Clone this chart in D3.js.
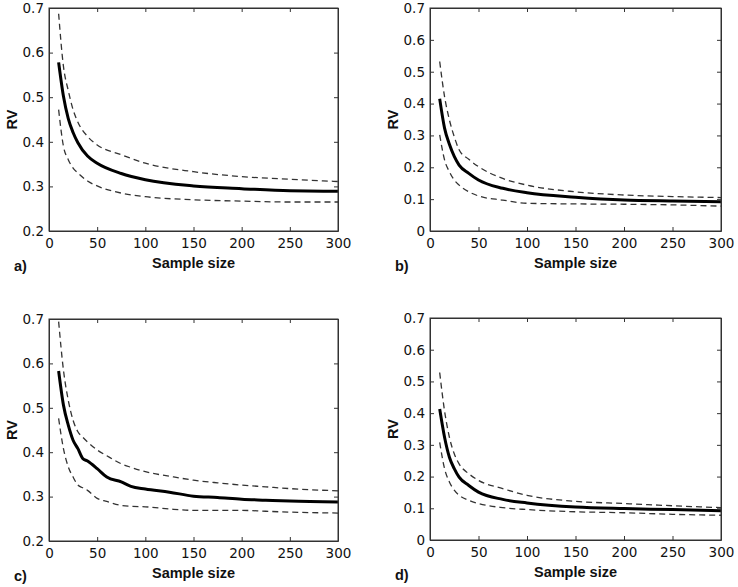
<!DOCTYPE html>
<html>
<head>
<meta charset="utf-8">
<script src="https://cdn.jsdelivr.net/npm/d3@7"></script>
<style>
  body { margin: 0; background: #fff; }
  svg text { font-family: "Liberation Sans", Arial, sans-serif; fill: #111; }
  .rv-label { font-size: 14.5px; font-weight: bold; }
  .rv-mean { fill: none; stroke: #000; stroke-width: 3; }
  .rv-band { fill: none; stroke: #333; stroke-width: 1.3; stroke-dasharray: 6,4; }
</style>
</head>
<body>
<script>
// sample sizes where the curves were read
const sampleSizes = [10, 15, 20, 25, 30, 40, 50, 75, 100, 150, 200, 250, 300];

// panel a
const meanA  = [0.578, 0.502, 0.452, 0.421, 0.398, 0.368, 0.352, 0.329, 0.315, 0.301, 0.295, 0.290, 0.289];
const upperA = [0.687, 0.569, 0.515, 0.472, 0.444, 0.412, 0.393, 0.371, 0.352, 0.333, 0.322, 0.316, 0.311];
const lowerA = [0.472, 0.390, 0.360, 0.341, 0.330, 0.312, 0.301, 0.285, 0.277, 0.270, 0.267, 0.265, 0.265];

// panel b
const meanB  = [0.415, 0.323, 0.272, 0.234, 0.207, 0.181, 0.160, 0.134, 0.120, 0.106, 0.097, 0.094, 0.092];
const upperB = [0.532, 0.422, 0.349, 0.296, 0.255, 0.225, 0.202, 0.165, 0.144, 0.123, 0.113, 0.108, 0.105];
const lowerB = [0.302, 0.223, 0.186, 0.160, 0.144, 0.123, 0.110, 0.097, 0.087, 0.085, 0.084, 0.082, 0.078];

// panel c
const sampleSizesC = [10, 15, 20, 25, 30, 35, 40, 50, 60, 75, 85, 100, 125, 150, 175, 200, 225, 250, 300];
const meanC  = [0.583, 0.506, 0.461, 0.427, 0.408, 0.386, 0.380, 0.363, 0.344, 0.333, 0.323, 0.317, 0.310, 0.301, 0.298, 0.294, 0.292, 0.290, 0.288];
const upperC = [0.694, 0.585, 0.517, 0.472, 0.446, 0.434, 0.423, 0.405, 0.392, 0.374, 0.366, 0.356, 0.346, 0.337, 0.331, 0.326, 0.322, 0.318, 0.313];
const lowerC = [0.476, 0.408, 0.367, 0.344, 0.326, 0.320, 0.314, 0.296, 0.289, 0.280, 0.278, 0.277, 0.272, 0.269, 0.269, 0.269, 0.267, 0.265, 0.263];

// panel d
const meanD  = [0.413, 0.324, 0.261, 0.225, 0.198, 0.172, 0.151, 0.128, 0.117, 0.104, 0.099, 0.096, 0.092];
const upperD = [0.528, 0.407, 0.324, 0.272, 0.240, 0.209, 0.188, 0.162, 0.141, 0.122, 0.115, 0.108, 0.102];
const lowerD = [0.308, 0.225, 0.183, 0.157, 0.141, 0.125, 0.115, 0.102, 0.096, 0.089, 0.086, 0.081, 0.078];

const xTicks = [0, 50, 100, 150, 200, 250, 300];
const yTicksHigh = [0.2, 0.3, 0.4, 0.5, 0.6, 0.7];
const yTicksLow = [0, 0.1, 0.2, 0.3, 0.4, 0.5, 0.6, 0.7];

const panels = [
  { tag: "a)", xs: sampleSizes,  mean: meanA, upper: upperA, lower: lowerA, yDomain: [0.2, 0.7], yTicks: yTicksHigh, box: [49, 338, 8, 231] },
  { tag: "b)", xs: sampleSizes,  mean: meanB, upper: upperB, lower: lowerB, yDomain: [0, 0.7],   yTicks: yTicksLow,  box: [430, 721, 8, 231] },
  { tag: "c)", xs: sampleSizesC, mean: meanC, upper: upperC, lower: lowerC, yDomain: [0.2, 0.7], yTicks: yTicksHigh, box: [49, 338, 319, 541] },
  { tag: "d)", xs: sampleSizes,  mean: meanD, upper: upperD, lower: lowerD, yDomain: [0, 0.7],   yTicks: yTicksLow,  box: [430, 721, 318, 540] }
];

const svg = d3.select("body").append("svg")
    .attr("width", 738)
    .attr("height", 587);

const tickLen = 4;

panels.forEach(p => {
  let [left, right, top, bottom] = p.box;

  let x = d3.scaleLinear().domain([0, 300]).range([left, right]);
  let y = d3.scaleLinear().domain(p.yDomain).range([bottom, top]);

  let g = svg.append("g").attr("class", "rv-panel");

  let line = d3.line()
      .curve(d3.curveMonotoneX)
      .x(d => x(d[0]))
      .y(d => y(d[1]));

  [["rv-band", p.upper], ["rv-band", p.lower], ["rv-mean", p.mean]].forEach(([cls, vals]) => {
    g.append("path")
      .attr("class", cls)
      .attr("d", line(p.xs.map((s, i) => [s, vals[i]])));
  });

  // matlab style box: inward ticks on every side
  let fmtY = d => d === 0 ? "0" : d3.format(".1f")(d);

  g.append("g")
      .attr("transform", "translate(0," + bottom + ")")
      .call(d3.axisBottom(x).tickValues(xTicks).tickSizeInner(-tickLen).tickSizeOuter(0).tickPadding(6))
      .call(a => a.selectAll("text").attr("dy", "0.8em"));
  g.append("g")
      .attr("transform", "translate(0," + top + ")")
      .call(d3.axisTop(x).tickValues(xTicks).tickSizeInner(-tickLen).tickSizeOuter(0).tickFormat(""));
  g.append("g")
      .attr("transform", "translate(" + left + ",0)")
      .call(d3.axisLeft(y).tickValues(p.yTicks).tickFormat(fmtY).tickSizeInner(-tickLen).tickSizeOuter(0).tickPadding(5));
  g.append("g")
      .attr("transform", "translate(" + right + ",0)")
      .call(d3.axisRight(y).tickValues(p.yTicks).tickSizeInner(-tickLen).tickSizeOuter(0).tickFormat(""));

  g.selectAll(".domain").attr("stroke", "#333");
  g.selectAll(".tick line").attr("stroke", "#333");
  g.selectAll(".tick text").attr("fill", "#111").style("font-family", "'DejaVu Sans', sans-serif").style("font-size", "13.5px");

  g.append("rect")
      .attr("x", left)
      .attr("y", top)
      .attr("width", right - left)
      .attr("height", bottom - top)
      .attr("fill", "none")
      .attr("stroke", "#333");

  g.append("text")
      .attr("class", "rv-label")
      .attr("x", (left + right) / 2)
      .attr("y", bottom + 37)
      .attr("text-anchor", "middle")
      .text("Sample size");

  g.append("text")
      .attr("class", "rv-label")
      .attr("transform", "translate(" + (left - 37) + "," + ((top + bottom) / 2) + ") rotate(-90)")
      .attr("text-anchor", "middle")
      .attr("dy", "0.35em")
      .text("RV");

  g.append("text")
      .attr("class", "rv-label")
      .attr("x", left - 35)
      .attr("y", bottom + 40)
      .text(p.tag);
});
</script>
</body>
</html>
